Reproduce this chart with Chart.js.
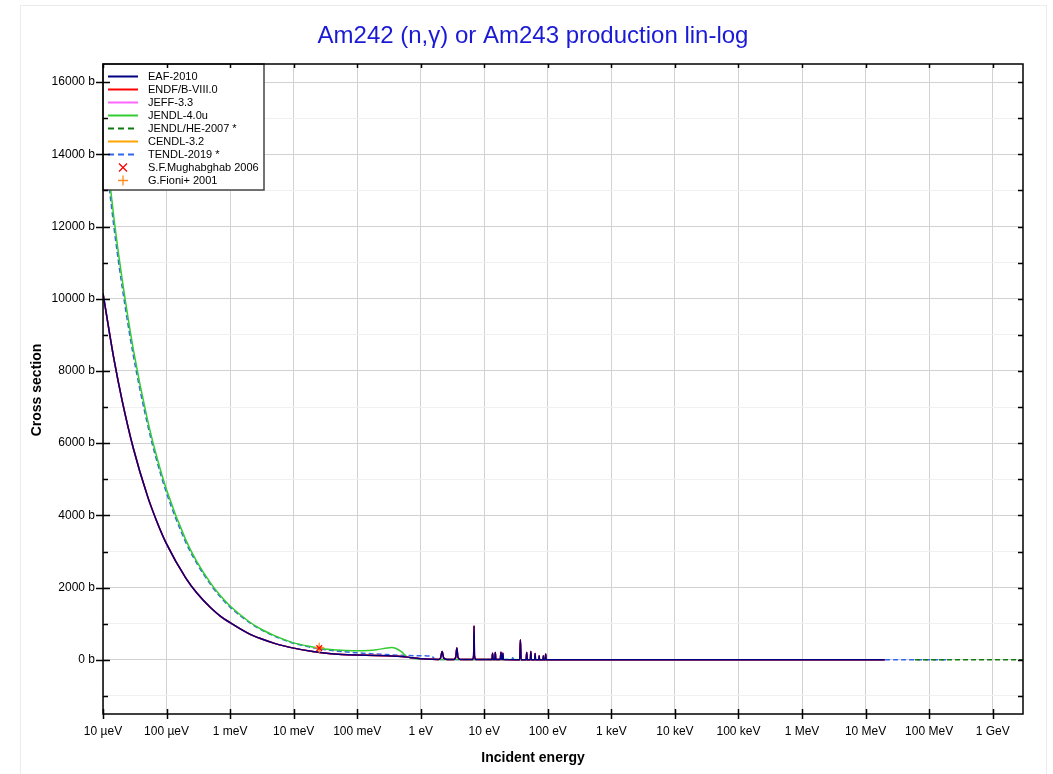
<!DOCTYPE html>
<html>
<head>
<meta charset="utf-8">
<title>Am242 (n,γ) or Am243 production lin-log</title>
<script src="https://cdn.jsdelivr.net/npm/chart.js@4.4.1/dist/chart.umd.min.js"></script>
<style>
  body { margin: 0; background: #fff; }
  canvas { display: block; }
</style>
</head>
<body>
<canvas id="chart" width="1053" height="774"></canvas>
<script>
const titleText = "Am242 (n,γ) or Am243 production lin-log"

// axis ticks
const xTickValues = [1e-5, 1e-4, 1e-3, 1e-2, 1e-1, 1, 10, 100, 1e3, 1e4, 1e5, 1e6, 1e7, 1e8, 1e9]
const xTickLabels = ["10 µeV", "100 µeV", "1 meV", "10 meV", "100 meV", "1 eV", "10 eV", "100 eV",
  "1 keV", "10 keV", "100 keV", "1 MeV", "10 MeV", "100 MeV", "1 GeV"]
const yTickValues = [-1000, 0, 1000, 2000, 3000, 4000, 5000, 6000, 7000, 8000, 9000, 10000,
  11000, 12000, 13000, 14000, 15000, 16000]

// EAF-2010 / ENDF/B-VIII.0 / JEFF-3.3 / CENDL-3.2 (they overlap at this scale)
const lowE = [1e-5, 1.5e-5, 2e-5, 3e-5, 5e-5, 7e-5, 1e-4, 2e-4, 3e-4, 5e-4, 7e-4, 1e-3, 2e-3, 3e-3, 5e-3, 7e-3,
  0.01, 0.02, 0.03, 0.05, 0.07, 0.1, 0.2, 0.3, 0.5, 0.7, 1.0, 1.5,
  1.9, 2.05, 2.17, 2.3, 2.6,
  3.3, 3.55, 3.7, 3.85, 4.2,
  6.5, 6.8, 6.9, 7.0, 7.4,
  13.2, 13.5, 13.8, 14.6, 14.9, 15.2, 17.8, 18.3, 18.8, 19.3, 19.6, 20.0,
  36, 37, 38, 45.5, 46.5, 47.5, 53, 54, 55, 62, 63, 64, 72, 73, 74, 84, 85, 86, 91, 92.5, 94, 100,
  1e3, 1e4, 1e5, 1e6, 1e7, 2e7]
const lowXS = [10150, 8290, 7180, 5860, 4540, 3840, 3210, 2270, 1850, 1435, 1213, 1030, 720, 590, 456, 386,
  324, 232, 192, 156, 143, 135, 122, 112, 95, 60, 30, 15,
  12, 50, 230, 50, 12,
  10, 70, 325, 70, 10,
  8, 120, 940, 120, 8,
  6, 185, 6, 6, 200, 6, 6, 210, 6, 6, 180, 6,
  5, 555, 5, 5, 200, 5, 5, 230, 5, 5, 175, 5, 5, 110, 5, 5, 110, 5, 5, 165, 5, 4,
  1.5, 0.6, 0.3, 0.15, 0.05, 0.02]

// JENDL-4.0u
const upE = [1e-5, 1.5e-5, 2e-5, 3e-5, 5e-5, 7e-5, 1e-4, 2e-4, 3e-4, 5e-4, 7e-4, 1e-3, 2e-3, 3e-3, 5e-3, 7e-3,
  0.01, 0.02, 0.03, 0.05, 0.07, 0.1, 0.15, 0.2, 0.3, 0.35, 0.4, 0.5, 0.6, 0.8, 1.0, 1.5, 2.0,
  10, 100, 1e3, 1e4, 1e5, 1e6, 1e7, 2e7]
const upXS = [14900, 12170, 10540, 8600, 6660, 5630, 4710, 3330, 2720, 2110, 1780, 1490, 1055, 860, 670, 565,
  470, 355, 300, 275, 258, 250, 258, 278, 330, 340, 320, 220, 90, 40, 25, 15, 12,
  8, 4, 1.5, 0.6, 0.3, 0.15, 0.05, 0.02]

// TENDL-2019
const tenE = [1e-5, 1.5e-5, 2e-5, 3e-5, 5e-5, 7e-5, 1e-4, 2e-4, 3e-4, 5e-4, 7e-4, 1e-3, 2e-3, 3e-3, 5e-3, 7e-3,
  0.01, 0.02, 0.03, 0.05, 0.07, 0.1, 0.2, 0.3, 0.5, 0.8, 1.2, 1.5, 1.7, 2.0,
  27, 28, 29, 100, 1e3, 1e4, 1e5, 1e6, 1e7, 1e8, 2e8]
const tenXS = [14600, 11930, 10330, 8430, 6530, 5520, 4620, 3260, 2670, 2070, 1745, 1460, 1035, 843, 657, 554,
  461, 336, 288, 240, 215, 195, 160, 145, 125, 115, 110, 95, 15, 12,
  6, 60, 6, 4, 1.5, 0.6, 0.3, 0.15, 0.05, 0.01, 0.01]

// JENDL/HE-2007 (only shows above the other libraries' range)
const heE = [6e7, 1e8, 1e9, 3e9]
const heXS = [0.01, 0.01, 0.005, 0.003]

// measurements at thermal energy
const mughabghabE = [0.0253]
const mughabghabXS = [324]
const fioniE = [0.0253]
const fioniXS = [335]

const SANS = '"Liberation Sans", Arial, sans-serif'

const series = (e, v) => e.map((x, i) => ({ x, y: v[i] }))

const curve = (label, e, v, color, dash) => ({
  label,
  data: series(e, v),
  borderColor: color,
  backgroundColor: color,
  borderWidth: 1.5,
  borderDash: dash || [],
  pointRadius: 0,
  cubicInterpolationMode: "monotone",
  fill: false
})

const marker = (label, e, v, color, style, radius) => ({
  label,
  data: series(e, v),
  showLine: false,
  borderColor: color,
  backgroundColor: color,
  pointStyle: style,
  pointRadius: radius,
  pointBorderWidth: 1.3,
  order: -1
})

const decorations = {
  id: "decorations",
  beforeDraw(chart) {
    const { ctx } = chart
    ctx.save()
    ctx.fillStyle = "#fff"
    ctx.fillRect(0, 0, chart.width, chart.height)
    ctx.strokeStyle = "#ececec"
    ctx.lineWidth = 1
    ctx.strokeRect(20.5, 5.5, 1026, 800)

    ctx.textAlign = "center"
    ctx.textBaseline = "middle"
    ctx.fillStyle = "#1a1ad6"
    ctx.font = "24px " + SANS
    ctx.fillText(titleText, 533, 36)

    ctx.fillStyle = "#000"
    ctx.font = "bold 14px " + SANS
    ctx.fillText("Incident energy", 533, 758)
    ctx.translate(37, 390)
    ctx.rotate(-Math.PI / 2)
    ctx.fillText("Cross section", 0, 0)
    ctx.restore()
  },
  afterDatasetsDraw(chart) {
    const { ctx, chartArea: a, scales } = chart
    ctx.save()

    // legend box in the top-left corner of the plot
    ctx.fillStyle = "#fff"
    ctx.fillRect(a.left, a.top, 161, 126)
    ctx.strokeStyle = "#444"
    ctx.lineWidth = 1.5
    ctx.strokeRect(a.left, a.top, 161, 126)
    ctx.font = "11px " + SANS
    ctx.textAlign = "left"
    ctx.textBaseline = "middle"
    chart.data.datasets.forEach((ds, i) => {
      const y = Math.round(a.top + 12 + i * 12.95) + 0.5
      ctx.strokeStyle = ds.borderColor
      if (ds.showLine === false) {
        ctx.lineWidth = 1.3
        ctx.setLineDash([])
        ctx.beginPath()
        if (ds.pointStyle === "crossRot") {
          ctx.moveTo(a.left + 16, y - 4); ctx.lineTo(a.left + 24, y + 4)
          ctx.moveTo(a.left + 16, y + 4); ctx.lineTo(a.left + 24, y - 4)
        } else {
          ctx.moveTo(a.left + 15, y); ctx.lineTo(a.left + 25, y)
          ctx.moveTo(a.left + 20, y - 5); ctx.lineTo(a.left + 20, y + 5)
        }
        ctx.stroke()
      } else {
        ctx.lineWidth = 2
        ctx.setLineDash(ds.borderDash.length ? [6, 4] : [])
        ctx.beginPath()
        ctx.moveTo(a.left + 5, y)
        ctx.lineTo(a.left + 35, y)
        ctx.stroke()
      }
      ctx.fillStyle = "#000"
      ctx.fillText(ds.label, a.left + 45, y)
    })
    ctx.setLineDash([])

    // tick marks crossing the frame, and the frame itself
    ctx.strokeStyle = "#000"
    ctx.lineWidth = 1.5
    ctx.beginPath()
    scales.x.ticks.forEach(t => {
      const x = Math.round(scales.x.getPixelForValue(t.value)) + 0.5
      ctx.moveTo(x, a.bottom - 5); ctx.lineTo(x, a.bottom + 5)
      ctx.moveTo(x, a.top); ctx.lineTo(x, a.top + 4)
    })
    scales.y.ticks.forEach(t => {
      const y = Math.round(scales.y.getPixelForValue(t.value)) + 0.5
      const major = t.value % 2000 === 0
      ctx.moveTo(major ? a.left - 7 : a.left, y); ctx.lineTo(a.left + (major ? 7 : 5), y)
      ctx.moveTo(a.right - 5, y); ctx.lineTo(a.right, y)
    })
    ctx.stroke()
    ctx.strokeRect(a.left, a.top, a.right - a.left, a.bottom - a.top)
    ctx.restore()
  }
}

new Chart(document.getElementById("chart"), {
  type: "line",
  data: {
    datasets: [
      curve("EAF-2010", lowE, lowXS, "#000080"),
      curve("ENDF/B-VIII.0", lowE, lowXS, "#ff0000"),
      curve("JEFF-3.3", lowE, lowXS, "#ff66ff"),
      curve("JENDL-4.0u", upE, upXS, "#33cc33"),
      curve("JENDL/HE-2007 *", heE, heXS, "#117a11", [5, 3]),
      curve("CENDL-3.2", lowE, lowXS, "#ffa500"),
      curve("TENDL-2019 *", tenE, tenXS, "#3366ee", [5, 3]),
      marker("S.F.Mughabghab 2006", mughabghabE, mughabghabXS, "#ff0000", "crossRot", 4),
      marker("G.Fioni+ 2001", fioniE, fioniXS, "#ff8c1a", "cross", 5)
    ]
  },
  options: {
    responsive: false,
    animation: false,
    events: [],
    layout: { padding: { top: 64, right: 30, left: 0, bottom: 0 } },
    plugins: {
      legend: { display: false },
      title: { display: false },
      tooltip: { enabled: false }
    },
    scales: {
      x: {
        type: "logarithmic",
        min: 1e-5,
        max: 3e9,
        afterBuildTicks: s => { s.ticks = xTickValues.map(value => ({ value })) },
        afterFit: s => { s.height = 60 },
        ticks: {
          autoSkip: false,
          maxRotation: 0,
          padding: 10,
          color: "#000",
          font: { family: SANS, size: 12 },
          callback: (v, i) => xTickLabels[i]
        },
        grid: { color: "#d2d2d2", drawTicks: false },
        border: { display: false }
      },
      y: {
        type: "linear",
        min: -1500,
        max: 16500,
        afterBuildTicks: s => { s.ticks = yTickValues.map(value => ({ value })) },
        afterFit: s => { s.width = 103 },
        ticks: {
          padding: 8,
          color: "#000",
          font: { family: SANS, size: 12 },
          callback: v => (v % 2000 === 0 ? v + " b" : "")
        },
        grid: {
          color: c => (c.tick && c.tick.value % 2000 === 0 ? "#d2d2d2" : "#f0f0f0"),
          drawTicks: false
        },
        border: { display: false }
      }
    }
  },
  plugins: [decorations]
})
</script>
</body>
</html>
